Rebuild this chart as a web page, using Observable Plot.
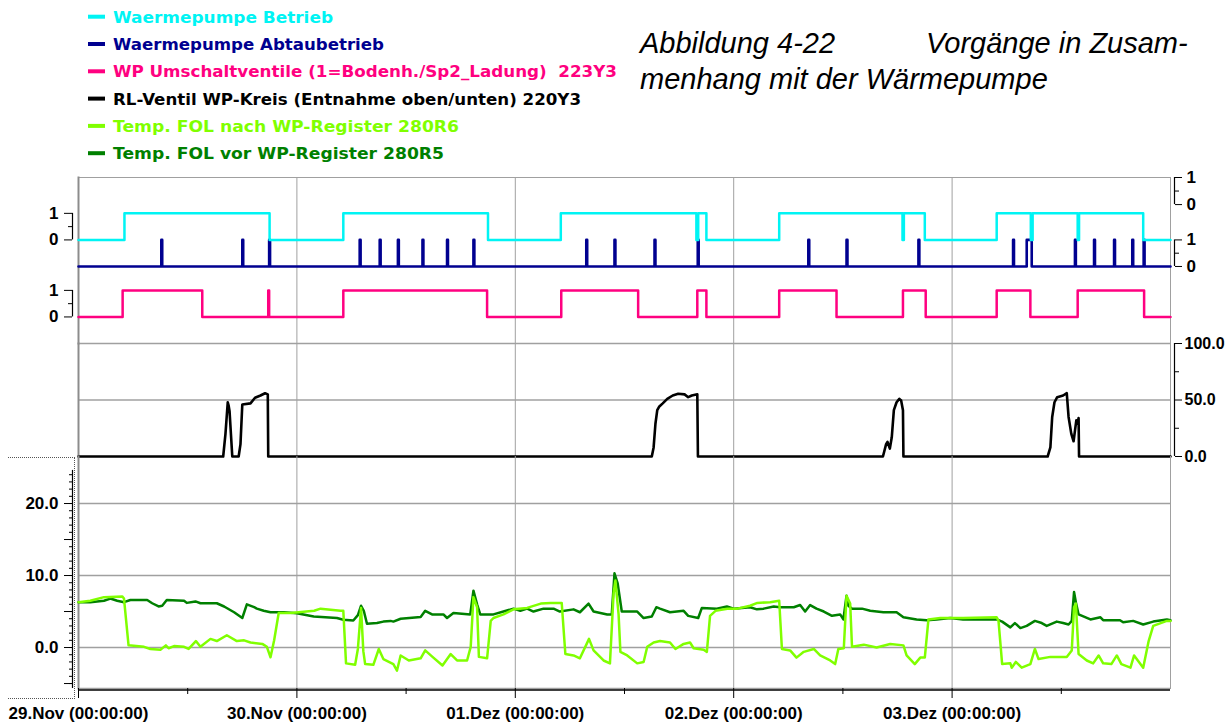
<!DOCTYPE html>
<html><head><meta charset="utf-8">
<script src="https://cdn.jsdelivr.net/npm/d3@7"></script>
<script src="https://cdn.jsdelivr.net/npm/@observablehq/plot@0.6"></script>
<style>
body{margin:0;background:#fff;}
#root{position:relative;width:1226px;height:727px;overflow:hidden;background:#fff;}
</style></head><body><div id="root"></div>
<script>
// ---------- data ----------
const T0 = Date.UTC(2003, 10, 29); // 29.Nov 00:00
const toDate = h => new Date(T0 + h * 3600e3);

const spanHours = [0, 120];
const dayHours = [0, 24, 48, 72, 96];
const dayLabels = ["29.Nov (00:00:00)", "30.Nov (00:00:00)", "01.Dez (00:00:00)", "02.Dez (00:00:00)", "03.Dez (00:00:00)"];
const gridHours = [24, 48, 72, 96];
const noonHours = [12, 36, 60, 84, 108];

const seriesNames = [
  "Waermepumpe Betrieb",
  "Waermepumpe Abtaubetrieb",
  "WP Umschaltventile (1=Bodenh./Sp2_Ladung)  223Y3",
  "RL-Ventil WP-Kreis (Entnahme oben/unten) 220Y3",
  "Temp. FOL nach WP-Register 280R6",
  "Temp. FOL vor WP-Register 280R5"
];
const seriesColors = ["#00f4f4", "#000090", "#ff0080", "#000000", "#80ff00", "#008000"];

const stateLabels = ["1", "0"];

const betriebHours = [0, 5.05, 21.0, 29.1, 45.0, 53.0, 67.9, 68.1, 69.0, 77.0, 90.55, 90.7, 93.0, 100.9, 104.65, 104.85, 109.8, 109.95, 117.0, 120];
const betriebStates = [0, 1, 0, 1, 0, 1, 0, 1, 0, 1, 0, 1, 0, 1, 0, 1, 0, 1, 0, 0];

const abtauStart = [9.1, 18.0, 20.95, 30.9, 33.1, 35.1, 37.8, 40.5, 43.4, 55.8, 58.9, 63.3, 68.05, 80.2, 84.4, 92.3, 102.7, 104.2, 109.5, 111.6, 113.8, 115.8, 117.05];
const abtauEnd   = [9.2, 18.1, 21.05, 31.0, 33.2, 35.2, 37.9, 40.6, 43.5, 55.9, 59.0, 63.4, 68.15, 80.3, 84.5, 92.4, 102.8, 104.75, 109.6, 111.7, 113.9, 115.9, 117.15];

const umschaltHours = [0, 4.85, 13.6, 20.85, 20.95, 29.1, 44.9, 53.05, 61.5, 68.0, 69.0, 77.0, 83.3, 90.6, 93.1, 100.9, 104.6, 109.8, 117.1, 120];
const umschaltStates = [0, 1, 0, 1, 0, 1, 0, 1, 0, 1, 0, 1, 0, 1, 0, 1, 0, 1, 0, 0];

const rlHours = [0, 15.9, 16.15, 16.4, 16.5, 16.6, 16.9, 17.6, 17.8, 18.0, 18.9, 19.4, 20.0, 20.5, 20.8, 20.85,
  63.0, 63.2, 63.4, 63.6, 63.8, 64.2, 64.7, 65.3, 65.9, 66.6, 67.0, 67.4, 68.0, 68.07,
  88.4, 88.75, 88.9, 89.16, 89.37, 89.6, 89.9, 90.2, 90.4, 90.6, 90.65,
  106.5, 106.8, 107.0, 107.25, 107.55, 108.2, 108.6, 108.8, 109.1, 109.35, 109.65, 109.8, 109.9, 109.95, 120];
const rlValues = [0, 0, 20, 48, 45, 40, 0, 0, 11, 46, 47, 52, 54, 56, 55, 0,
  0, 8, 29, 41, 44, 47, 51, 54, 55.5, 55, 52.5, 54, 55, 0,
  0, 11, 13, 7, 17, 41, 48, 51, 49.5, 41, 0,
  0, 8, 35, 48, 52.5, 54, 56, 35, 20, 13.5, 32, 29, 34, 0, 0];
const rlTicks = [0, 50, 100];
const rlMinorTicks = [25, 75];

const r6Hours = [0, 1.3, 2.8, 4.8, 5.0, 5.5, 7.2, 7.9, 9.0, 9.6,
  9.9, 10.5, 11.6, 12.1, 12.9, 13.4, 14.5, 15.2, 16.3, 17.4,
  18.2, 18.9, 20.2, 20.7, 21.1, 21.5, 22.0, 23.3, 25.9, 26.6,
  28.8, 29.1, 29.4, 30.4, 30.7, 31.05, 31.3, 31.5, 32.4, 33.0,
  33.5, 34.6, 35.0, 35.4, 36.3, 37.6, 38.1, 38.9, 40.0, 40.9,
  41.6, 42.7, 43.1, 43.4, 43.8, 44.0, 44.9, 45.3, 45.6, 46.7,
  47.8, 49.3, 50.8, 51.9, 53.1, 53.5, 54.4, 55.1, 56.1, 56.6,
  57.7, 58.4, 58.8, 59.0, 59.35, 59.55, 60.3, 61.4, 62.1, 62.5,
  63.2, 63.9, 65.0, 65.6, 66.5, 67.2, 67.6, 68.7, 69.05, 69.4,
  70.0, 71.3, 72.4, 73.8, 74.6, 76.0, 77.0, 77.3, 78.2, 78.9,
  79.7, 80.8, 81.5, 82.6, 83.15, 83.5, 84.1, 84.4, 84.8, 85.0,
  86.3, 87.7, 89.2, 90.65, 91.0, 91.9, 92.5, 93.0, 93.4, 94.7,
  97.2, 100.9, 101.1, 101.5, 102.4, 102.55, 103.0, 103.65, 104.6, 105.1,
  105.5, 106.8, 107.9, 108.6, 109.15, 109.4, 109.6, 109.9, 110.8, 111.5,
  112.1, 112.6, 113.5, 114.1, 114.6, 115.6, 116.0, 117.0, 117.6, 118.1,
  119.6, 120];
const r6Values = [6.3, 6.5, 7.0, 7.1, 6.8, 0.3, 0.1, -0.2, -0.3, 0.3,
  -0.1, 0.2, 0.1, -0.2, 0.9, 0.1, 1.2, 0.9, 1.7, 0.9,
  1.0, 0.7, 0.5, 0.1, -1.35, 1.0, 4.8, 4.8, 5.1, 5.4,
  5.1, 5.1, -2.2, -2.4, -0.2, 5.5, -0.5, -2.3, -2.4, -0.2,
  -1.6, -2.3, -3.2, -1.1, -1.8, -1.5, -0.4, -1.3, -2.5, -0.9,
  -1.8, -1.8, 0.1, 7.0, 5.6, -1.3, -1.5, 3.7, 4.1, 4.6,
  5.3, 5.5, 6.1, 6.2, 6.2, -0.9, -1.1, -1.5, 1.2, -0.4,
  -1.8, -2.2, 7.5, 9.3, 4.6, -0.6, -1.1, -2.2, -2.0, 0.1,
  0.7, 0.9, 0.7, -0.2, 0.5, 0.7, -0.1, -0.3, -0.6, 4.4,
  5.1, 5.4, 5.4, 5.8, 6.2, 6.3, 6.5, -0.2, -0.4, -1.4,
  -0.6, -0.2, -1.1, -1.8, -2.3, -0.2, -0.1, 7.2, 6.1, 0.1,
  0.4, 0.0, 0.5, 0.3, -1.1, -2.3, -1.4, -1.4, 3.9, 4.1,
  4.1, 4.2, 3.7, -2.3, -2.2, -2.8, -2.0, -2.8, -2.3, -0.2,
  -1.6, -1.3, -1.3, -1.3, -0.4, 5.6, 6.1, -0.9, -1.8, -2.2,
  -1.1, -2.2, -2.3, -1.1, -2.3, -2.8, -1.1, -2.8, 0.9, 3.0,
  3.7, 3.7];

const r5Hours = [0, 1.3, 2.8, 3.5, 4.25, 5.0, 5.7, 7.55, 8.1, 8.8,
  9.2, 9.7, 11.6, 11.9, 12.85, 13.4, 15.2, 16.0, 17.1, 18.0,
  18.5, 19.3, 19.6, 20.35, 21.1, 22.55, 24.0, 25.85, 28.4, 29.1,
  30.2, 30.7, 31.05, 31.35, 31.7, 32.8, 33.5, 34.3, 34.6, 35.4,
  37.6, 38.1, 38.85, 40.1, 40.5, 41.2, 43.05, 43.4, 43.8, 44.15,
  45.6, 46.7, 47.8, 48.55, 49.3, 50.0, 51.1, 52.2, 52.9, 54.4,
  55.1, 56.05, 56.6, 58.1, 58.6, 58.9, 59.25, 59.7, 61.4, 62.1,
  63.0, 63.5, 63.9, 65.0, 66.5, 67.0, 68.1, 68.5, 70.15, 71.25,
  72.0, 73.8, 74.55, 75.3, 76.4, 77.1, 78.6, 79.3, 79.85, 80.4,
  81.1, 81.9, 82.8, 83.7, 84.05, 84.4, 84.6, 85.0, 86.1, 87.0,
  88.45, 89.9, 90.65, 92.1, 93.2, 94.3, 95.8, 97.2, 100.9, 101.5,
  102.4, 102.9, 103.5, 104.2, 105.1, 105.85, 106.4, 107.5, 108.2, 108.8,
  109.15, 109.4, 109.6, 109.9, 111.2, 112.3, 112.6, 114.45, 114.8, 115.9,
  117.0, 118.1, 119.6, 120];
const r5Values = [6.3, 6.3, 6.5, 6.8, 6.5, 6.3, 6.6, 6.6, 6.15, 5.7,
  5.8, 6.6, 6.5, 6.2, 6.4, 6.15, 6.15, 5.7, 4.9, 4.1,
  6.0, 5.6, 5.4, 5.1, 4.9, 4.9, 4.76, 4.3, 4.1, 3.85,
  3.75, 4.5, 5.8, 5.1, 3.3, 3.4, 3.6, 3.7, 3.6, 4.0,
  4.25, 5.1, 4.6, 4.6, 4.1, 4.8, 4.6, 7.9, 6.0, 4.6,
  4.6, 5.0, 5.4, 5.1, 5.4, 5.0, 5.4, 5.4, 5.0, 5.3,
  4.9, 6.1, 5.0, 4.6, 4.6, 10.3, 8.9, 5.0, 5.0, 4.1,
  4.3, 5.6, 5.4, 4.9, 5.1, 4.4, 4.1, 5.5, 5.4, 5.7,
  5.4, 5.6, 5.3, 5.4, 5.7, 5.6, 5.6, 5.9, 5.0, 5.9,
  5.4, 5.0, 4.4, 4.6, 3.9, 7.2, 5.8, 5.4, 5.4, 5.1,
  4.9, 4.9, 4.2, 3.9, 3.8, 3.9, 4.1, 3.9, 3.9, 3.6,
  2.8, 3.4, 2.7, 3.0, 3.7, 3.4, 3.0, 3.6, 3.4, 3.2,
  3.7, 7.7, 6.3, 4.6, 3.9, 4.2, 3.8, 3.8, 3.5, 3.7,
  3.2, 3.6, 3.9, 3.8];
const tempTicks = [0, 10, 20];
const tempMidTicks = [-5, 5, 15];

// ---------- layout constants ----------
const W = 1226, ML = 78, MR = 56;
const GRID = "#a0a0a0";
const CY_OFF = 1, PK_OFF = -1.9;        // track offsets in digital panel
const TOP_R = [3.35, 2.33];            // top right bracket (1 / 0)
const TEMP_DOMAIN = [-5.69, 26.53];
const TEMP_RULER_TOP = 24.6;
const root = document.getElementById("root");
const baseStyle = {fontFamily: "'Liberation Sans', Arial, sans-serif", fontSize: "17px", fontWeight: "bold",
  background: "transparent", overflow: "visible", color: "#000"};
const xScale = {type: "utc", domain: spanHours.map(toDate)};
const t0 = toDate(spanHours[0]), t1 = toDate(spanHours[1]);

const zip = (hs, vs) => hs.map((h, i) => ({t: toDate(h), v: vs[i]}));
const betrieb = zip(betriebHours, betriebStates);
const umschalt = zip(umschaltHours, umschaltStates);
const abtau = [{t: t0, v: 0}, ...abtauStart.flatMap((s, i) => [{t: toDate(s), v: 1}, {t: toDate(abtauEnd[i]), v: 0}]), {t: t1, v: 0}];
const rl = zip(rlHours, rlValues);
const r6 = zip(r6Hours, r6Values);
const r5 = zip(r5Hours, r5Values);

function place(svg, top) {
  svg.style.position = "absolute"; svg.style.left = "0px"; svg.style.top = top + "px";
  root.appendChild(svg);
}
const vgrid = () => Plot.ruleX(gridHours.map(toDate), {stroke: GRID, strokeWidth: 1});
const sideFrames = () => [
  Plot.frame({anchor: "right", stroke: GRID}),
  Plot.frame({anchor: "left", stroke: "#8c8c8c", strokeWidth: 2})
];
const bracket = (x, a, b, dx) => Plot.ruleX([{x, y1: a, y2: b}], {x: "x", y1: "y1", y2: "y2", dx, stroke: "#000", strokeWidth: 1.2});

// ---------- panel 1: digital signals ----------
const p1 = Plot.plot({
  width: W, height: 173, marginLeft: ML, marginRight: MR, marginTop: 7, marginBottom: 0,
  x: {...xScale, axis: null},
  y: {domain: [-2.9, 3.35]},
  style: baseStyle,
  marks: [
    vgrid(),
    Plot.frame({anchor: "top", stroke: GRID}),
    ...sideFrames(),
    Plot.line(abtau, {x: "t", y: "v", curve: "step-after", stroke: seriesColors[1], strokeWidth: 2.6}),
    Plot.line(betrieb, {x: "t", y: d => d.v + CY_OFF, curve: "step-after", stroke: seriesColors[0], strokeWidth: 2.5}),
    Plot.line(umschalt, {x: "t", y: d => d.v + PK_OFF, curve: "step-after", stroke: seriesColors[2], strokeWidth: 2.5}),
    // left brackets
    Plot.axisY({anchor: "left", ticks: [1 + CY_OFF, CY_OFF], tickFormat: d => stateLabels[d > CY_OFF + 0.5 ? 0 : 1], tickSize: 8, tickPadding: 6, dx: -6, label: null}),
    Plot.axisY({anchor: "left", ticks: [1 + PK_OFF, PK_OFF], tickFormat: d => stateLabels[d > PK_OFF + 0.5 ? 0 : 1], tickSize: 8, tickPadding: 6, dx: -6, label: null}),
    Plot.axisY({anchor: "left", ticks: [CY_OFF + 0.5, PK_OFF + 0.5], tickFormat: () => "", tickSize: 4, dx: -6, label: null}),
    bracket(t0, CY_OFF, CY_OFF + 1, -6),
    bracket(t0, PK_OFF, PK_OFF + 1, -6),
    // right brackets
    Plot.axisY({anchor: "right", ticks: [1, 0], tickFormat: d => stateLabels[d > 0.5 ? 0 : 1], tickSize: 7, tickPadding: 5, dx: 4, label: null}),
    Plot.axisY({anchor: "right", ticks: TOP_R, tickFormat: d => stateLabels[d > (TOP_R[0] + TOP_R[1]) / 2 ? 0 : 1], tickSize: 7, tickPadding: 5, dx: 4, label: null}),
    Plot.axisY({anchor: "right", ticks: [0.5, (TOP_R[0] + TOP_R[1]) / 2], tickFormat: () => "", tickSize: 4, dx: 4, label: null}),
    bracket(t1, 0, 1, 4),
    bracket(t1, TOP_R[1], TOP_R[0], 4)
  ]
});
place(p1, 170);

// ---------- panel 2: RL-Ventil ----------
const p2 = Plot.plot({
  width: W, height: 113, marginLeft: ML, marginRight: MR, marginTop: 0, marginBottom: 0,
  x: {...xScale, axis: null},
  y: {domain: [0, 100]},
  style: baseStyle,
  marks: [
    vgrid(),
    Plot.ruleY([50, 100], {stroke: GRID, strokeWidth: 1.5}),
    ...sideFrames(),
    Plot.line(rl, {x: "t", y: "v", stroke: seriesColors[3], strokeWidth: 2.6}),
    Plot.axisY({anchor: "right", ticks: rlTicks, tickFormat: d3.format(".1f"), tickSize: 7, tickPadding: 3, dx: 4, fontSize: 16, label: null}),
    Plot.axisY({anchor: "right", ticks: rlMinorTicks, tickFormat: () => "", tickSize: 4, dx: 4, label: null}),
    bracket(t1, 0, 100, 4)
  ]
});
place(p2, 343);

// ---------- panel 3: temperatures ----------
const p3 = Plot.plot({
  width: W, height: 271, marginLeft: ML, marginRight: MR, marginTop: 0, marginBottom: 39,
  x: xScale,
  y: {domain: TEMP_DOMAIN},
  style: baseStyle,
  marks: [
    vgrid(),
    Plot.ruleY(tempTicks, {stroke: GRID, strokeWidth: 1.5}),
    ...sideFrames(),
    Plot.line(r5, {x: "t", y: "v", stroke: seriesColors[5], strokeWidth: 2.5}),
    Plot.line(r6, {x: "t", y: "v", stroke: seriesColors[4], strokeWidth: 2.5}),
    Plot.axisY({anchor: "left", ticks: tempTicks, tickFormat: d3.format(".1f"), tickSize: 8, tickPadding: 6, dx: -6, label: null}),
    Plot.axisY({anchor: "left", ticks: tempMidTicks, tickFormat: () => "", tickSize: 8, dx: -6, label: null}),
    Plot.axisY({anchor: "left", ticks: d3.range(Math.ceil(TEMP_DOMAIN[0]), Math.ceil(TEMP_RULER_TOP)), tickFormat: () => "", tickSize: 3, dx: -6, label: null}),
    bracket(t0, TEMP_DOMAIN[0], TEMP_RULER_TOP, -6),
    Plot.ruleY([TEMP_DOMAIN[0]], {stroke: GRID, strokeWidth: 1.5}),
    Plot.ruleY([TEMP_DOMAIN[0]], {stroke: "#000", strokeWidth: 1.5, dy: 1.5}),
    Plot.axisX({ticks: dayHours.map(toDate), tickFormat: d => dayLabels[dayHours.indexOf(Math.round((d - T0) / 3600e3))], tickSize: 10, tickPadding: 8, label: null}),
    Plot.axisX({ticks: noonHours.map(toDate), tickFormat: () => "", tickSize: 6, label: null})
  ]
});
place(p3, 456);

// dotted selection box at the temperature axis
const box = document.createElement("div");
Object.assign(box.style, {position: "absolute", left: "8px", top: "457px", width: "66px", height: "240px",
  borderTop: "1px dotted #555", borderRight: "1px dotted #555", borderBottom: "1px dotted #555"});
root.appendChild(box);

// ---------- legend ----------
const legendWidths = [220, 271, 504, 468, 346, 331];
const legend = d3.create("svg").attr("width", W).attr("height", 170)
  .style("position", "absolute").style("left", "0px").style("top", "0px").style("overflow", "visible");
seriesNames.forEach((name, i) => {
  const cy = 16.7 + i * 27.3;
  legend.append("rect").attr("x", 88).attr("y", cy - 2).attr("width", 17).attr("height", 4).attr("fill", seriesColors[i]);
  legend.append("text").attr("x", 113).attr("y", cy + 6).attr("fill", seriesColors[i])
    .attr("font-family", "'DejaVu Sans', Verdana, sans-serif").attr("font-weight", "bold").attr("font-size", 16)
    .style("white-space", "pre").attr("xml:space", "preserve")
    .attr("textLength", legendWidths[i]).attr("lengthAdjust", "spacingAndGlyphs").text(name);
});
root.appendChild(legend.node());

// ---------- title ----------
const title = d3.create("svg").attr("width", W).attr("height", 110)
  .style("position", "absolute").style("left", "0px").style("top", "0px");
const tf = s => s.attr("font-family", "'Liberation Sans', Arial, sans-serif").attr("font-style", "italic").attr("font-size", 29).attr("fill", "#000");
tf(title.append("text").attr("x", 640).attr("y", 53).text("Abbildung 4-22"));
tf(title.append("text").attr("x", 926).attr("y", 53).text("Vorgänge in Zusam-"));
tf(title.append("text").attr("x", 640).attr("y", 89).text("menhang mit der Wärmepumpe"));
root.appendChild(title.node());
</script></body></html>
